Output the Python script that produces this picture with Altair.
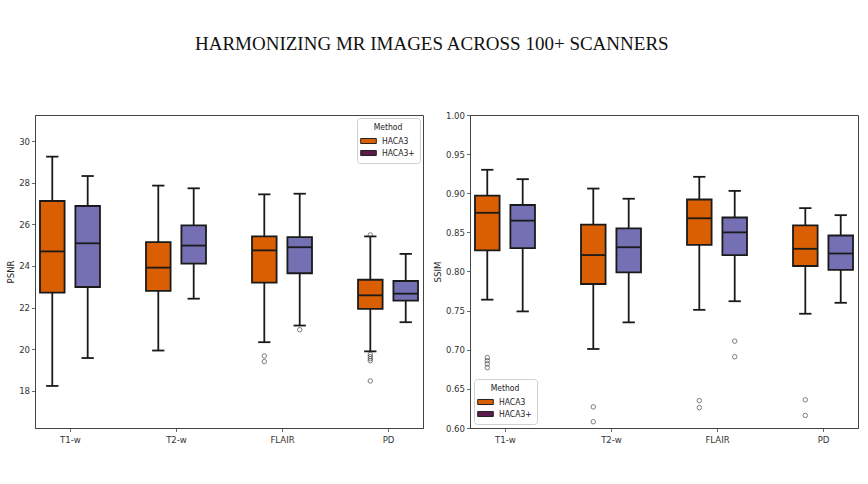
import json
import altair as alt
import pandas as pd

# ---------------- data ----------------
categories = ["T1-w", "T2-w", "FLAIR", "PD"]
methods = ["HACA3", "HACA3+"]

# PSNR box statistics (per category)
psnr_haca3_lo = [18.24, 19.94, 20.34, 19.90]
psnr_haca3_q1 = [22.72, 22.80, 23.20, 21.94]
psnr_haca3_med = [24.70, 23.92, 24.75, 22.59]
psnr_haca3_q3 = [27.12, 25.15, 25.42, 23.34]
psnr_haca3_hi = [29.25, 27.86, 27.44, 25.42]
psnr_plus_lo = [19.58, 22.43, 21.14, 21.30]
psnr_plus_q1 = [22.99, 24.11, 23.65, 22.34]
psnr_plus_med = [25.09, 24.98, 24.90, 22.67]
psnr_plus_q3 = [26.88, 25.95, 25.39, 23.28]
psnr_plus_hi = [28.32, 27.73, 27.47, 24.58]

psnr_out_cat = ["FLAIR", "FLAIR", "FLAIR", "PD", "PD", "PD", "PD", "PD", "PD"]
psnr_out_method = ["HACA3", "HACA3", "HACA3+", "HACA3", "HACA3", "HACA3", "HACA3", "HACA3", "HACA3"]
psnr_out_val = [19.68, 19.41, 20.94, 25.49, 19.76, 19.65, 19.55, 19.45, 18.48]

# SSIM box statistics
ssim_haca3_lo = [0.764, 0.701, 0.751, 0.746]
ssim_haca3_q1 = [0.827, 0.784, 0.834, 0.807]
ssim_haca3_med = [0.875, 0.821, 0.868, 0.829]
ssim_haca3_q3 = [0.897, 0.860, 0.892, 0.859]
ssim_haca3_hi = [0.930, 0.906, 0.921, 0.881]
ssim_plus_lo = [0.749, 0.735, 0.762, 0.760]
ssim_plus_q1 = [0.830, 0.799, 0.821, 0.802]
ssim_plus_med = [0.865, 0.831, 0.850, 0.823]
ssim_plus_q3 = [0.885, 0.855, 0.869, 0.846]
ssim_plus_hi = [0.918, 0.893, 0.903, 0.872]

ssim_out_cat = ["T1-w", "T1-w", "T1-w", "T1-w", "T2-w", "T2-w", "FLAIR", "FLAIR", "FLAIR", "FLAIR", "PD", "PD"]
ssim_out_method = ["HACA3", "HACA3", "HACA3", "HACA3", "HACA3", "HACA3", "HACA3", "HACA3", "HACA3+", "HACA3+", "HACA3", "HACA3"]
ssim_out_val = [0.690, 0.686, 0.682, 0.677, 0.627, 0.608, 0.635, 0.626, 0.711, 0.691, 0.636, 0.616]

box_colors = ["#d95f02", "#7570b3"]
legend_colors = ["#d95f02", "#5b1a4a"]


def box_frame(stats_a, stats_b):
    rows = []
    for method, st in zip(methods, [stats_a, stats_b]):
        lo, q1, med, q3, hi = st
        for i, c in enumerate(categories):
            rows.append(dict(category=c, method=method, lo=lo[i], q1=q1[i],
                             med=med[i], q3=q3[i], hi=hi[i]))
    return pd.DataFrame(rows)


psnr_box = box_frame(
    [psnr_haca3_lo, psnr_haca3_q1, psnr_haca3_med, psnr_haca3_q3, psnr_haca3_hi],
    [psnr_plus_lo, psnr_plus_q1, psnr_plus_med, psnr_plus_q3, psnr_plus_hi])
ssim_box = box_frame(
    [ssim_haca3_lo, ssim_haca3_q1, ssim_haca3_med, ssim_haca3_q3, ssim_haca3_hi],
    [ssim_plus_lo, ssim_plus_q1, ssim_plus_med, ssim_plus_q3, ssim_plus_hi])
psnr_out = pd.DataFrame(dict(category=psnr_out_cat, method=psnr_out_method, value=psnr_out_val))
ssim_out = pd.DataFrame(dict(category=ssim_out_cat, method=ssim_out_method, value=ssim_out_val))

cats_js = json.dumps(categories)
OFF = 0.167
HALF = 0.116
CAP = 0.058

xc_expr = f"indexof({cats_js}, datum.category) + (datum.method == 'HACA3' ? -{OFF} : {OFF})"
label_expr = f"{cats_js}[datum.value]"

xscale = alt.Scale(domain=[-0.33, 3.33], nice=False, zero=False)
FONT = "DejaVu Sans Condensed"
LINE = "#1a1a1a"


def make_legend(orient, offset):
    return alt.Legend(
        title="Method", orient=orient, offset=offset,
        fillColor="white", strokeColor="#d0d0d0", cornerRadius=3,
        padding=5, symbolType="M-1.3,-0.42H1.3V0.42H-1.3Z", symbolSize=144,
        symbolStrokeColor="#222222", symbolStrokeWidth=1, symbolOpacity=1,
        labelFont=FONT, titleFont=FONT, labelFontSize=8.5,
        titleFontSize=8.5, titleFontWeight="normal", titleAnchor="middle",
        rowPadding=0, titlePadding=3, labelOffset=7,
        labelColor="#222222", titleColor="#222222")


def panel(box_df, out_df, ytitle, ydomain, yvalues, yformat, legend):
    yscale = alt.Scale(domain=ydomain, nice=False, zero=False)
    xaxis = alt.Axis(values=[0, 1, 2, 3], labelExpr=label_expr, title=None,
                     grid=False, labelPadding=3)
    yaxis = alt.Axis(values=yvalues, format=yformat, title=ytitle, grid=False,
                     titlePadding=3, labelPadding=2)

    def X(f):
        return alt.X(f, scale=xscale, axis=xaxis, title=None)

    def Y(f):
        return alt.Y(f, scale=yscale, axis=yaxis, title=ytitle)

    base = alt.Chart(box_df).transform_calculate(xc=xc_expr).transform_calculate(
        xl=f"datum.xc - {HALF}", xr=f"datum.xc + {HALF}",
        cl=f"datum.xc - {CAP}", cr=f"datum.xc + {CAP}")

    whisker = base.mark_rule(color=LINE, strokeWidth=1.8).encode(
        x=X("xc:Q"), y=Y("lo:Q"), y2="hi:Q")
    cap_lo = base.mark_rule(color=LINE, strokeWidth=1.8).encode(
        x=X("cl:Q"), x2="cr:Q", y=Y("lo:Q"))
    cap_hi = base.mark_rule(color=LINE, strokeWidth=1.8).encode(
        x=X("cl:Q"), x2="cr:Q", y=Y("hi:Q"))
    box = base.mark_rect(stroke=LINE, strokeWidth=1.8).encode(
        x=X("xl:Q"), x2="xr:Q", y=Y("q1:Q"), y2="q3:Q",
        fill=alt.condition(f"datum.method == '{methods[0]}'",
                           alt.value(box_colors[0]), alt.value(box_colors[1])))
    median = base.mark_rule(color=LINE, strokeWidth=1.8).encode(
        x=X("xl:Q"), x2="xr:Q", y=Y("med:Q"))
    outliers = alt.Chart(out_df).transform_calculate(xc=xc_expr).mark_point(
        shape="circle", filled=False, color="#333333", size=20, strokeWidth=0.9).encode(
        x=X("xc:Q"), y=Y("value:Q"))
    # layer that only carries the legend (its marks fall outside the clipped plot)
    legend_layer = base.transform_calculate(
        hidden="-1000", Method="datum.method"
    ).mark_square(clip=True, opacity=1).encode(
        x=X("xc:Q"), y=Y("hidden:Q"),
        color=alt.Color("Method:N", scale=alt.Scale(domain=methods, range=legend_colors),
                        legend=legend))
    return alt.layer(whisker, cap_lo, cap_hi, box, median, outliers, legend_layer).properties(
        width=388, height=313)


left = panel(psnr_box, psnr_out, "PSNR", [16.22, 31.25], [18, 20, 22, 24, 26, 28, 30], "d",
             make_legend("top-right", 3))
right = panel(ssim_box, ssim_out, "SSIM", [0.6, 1.0],
              [0.60, 0.65, 0.70, 0.75, 0.80, 0.85, 0.90, 0.95, 1.00], ".2f",
              make_legend("bottom-left", 4))

chart = alt.hconcat(left, right, spacing=7).resolve_scale(
    color="independent", x="independent", y="independent"
).resolve_legend(color="independent").properties(
    title=alt.TitleParams(
        text="HARMONIZING MR IMAGES ACROSS 100+ SCANNERS",
        font="Liberation Serif", fontSize=19, fontWeight="normal", color="#111111",
        anchor="middle", offset=56),
    padding={"left": 5, "top": 34, "right": 5, "bottom": 5},
    background="white",
).configure_axis(
    labelFont=FONT, titleFont=FONT, labelFontSize=9.5, titleFontSize=9.5,
    titleFontWeight="normal", labelColor="#333333", titleColor="#222222",
    domainColor="#444444", tickColor="#444444", tickSize=3.5, tickWidth=0.8,
    domainWidth=1,
).configure_view(stroke="#444444", strokeWidth=1)

chart.save("out.html", embed_options={"renderer": "svg", "actions": False})
